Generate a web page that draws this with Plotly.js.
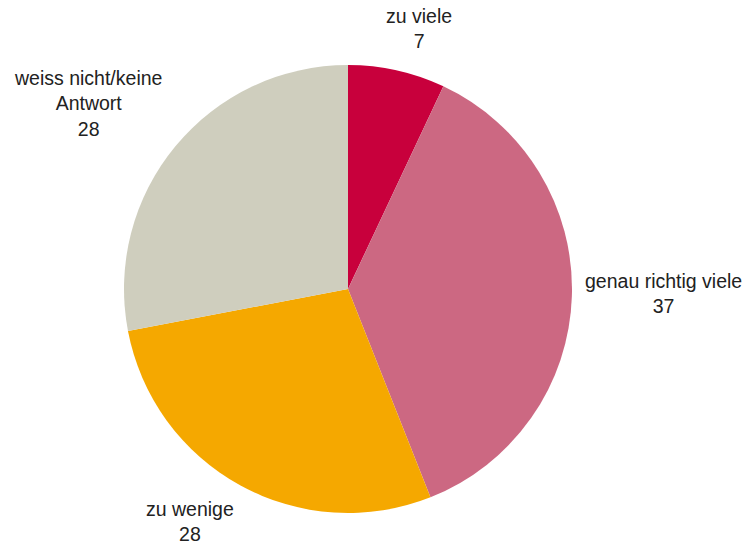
<!DOCTYPE html>
<html>
<head>
<meta charset="utf-8">
<script src="https://cdn.plot.ly/plotly-3.0.1.min.js"></script>
<style>html,body{margin:0;padding:0;background:#fff;}#chart{width:747px;height:544px;}</style>
</head>
<body>
<div id="chart"></div>
<script>
const categories = ["zu viele", "genau richtig viele", "zu wenige", "weiss nicht/keine Antwort"];
const labelText = ["zu viele", "genau richtig viele", "zu wenige", "weiss nicht/keine<br>Antwort"];
const values = [7, 37, 28, 28];
const colors = ["#C8003C", "#CC6882", "#F5A800", "#CFCEBE"];

const W = 747, H = 544;
const cx = 348, cy = 289, r = 224;
// label anchor positions (pixel, vertical centre of first line)
const labelPos = [[419, 18], [663, 283], [190, 511], [88, 80]];

const annotations = categories.map((c, i) => ({
  text: labelText[i] + "<br>" + values[i],
  x: labelPos[i][0] / W, y: 1 - (labelPos[i][1] - 15) / H,
  xref: "paper", yref: "paper", xanchor: "center", yanchor: "top",
  showarrow: false, align: "center",
  font: {family: "Liberation Sans, Arial, sans-serif", size: 19.5, color: "#222"}
}));

Plotly.newPlot("chart", [{
  type: "pie",
  labels: categories,
  values: values,
  sort: false,
  direction: "clockwise",
  rotation: 0,
  textinfo: "none",
  hoverinfo: "label+value",
  marker: {colors: colors, line: {width: 0}},
  domain: {x: [(cx - r) / W, (cx + r) / W], y: [1 - (cy + r) / H, 1 - (cy - r) / H]}
}], {
  width: W, height: H,
  margin: {l: 0, r: 0, t: 0, b: 0},
  showlegend: false,
  paper_bgcolor: "#fff",
  annotations: annotations
}, {displayModeBar: false});
</script>
</body>
</html>
